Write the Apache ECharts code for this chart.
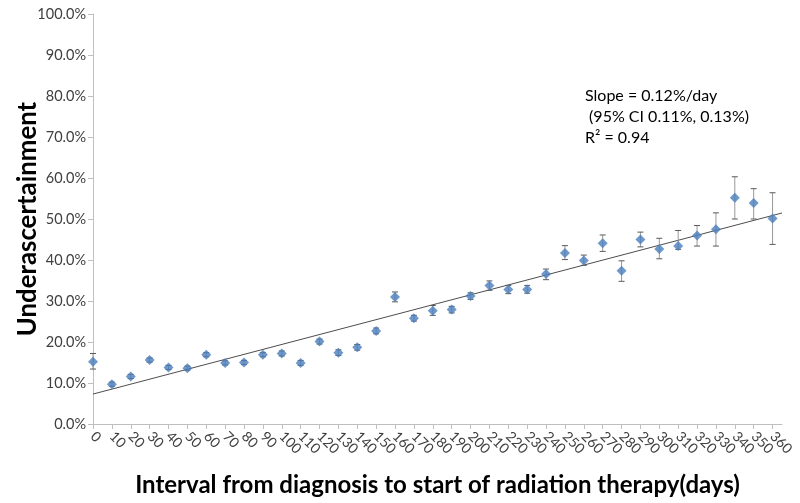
<!DOCTYPE html>
<html>
<head>
<meta charset="utf-8">
<script src="https://cdn.jsdelivr.net/npm/echarts@6/dist/echarts.min.js"></script>
<style>html,body{margin:0;padding:0;background:#fff}#c{width:800px;height:503px}</style>
</head>
<body>
<div id="c"></div>
<script>
var days = [0,10,20,30,40,50,60,70,80,90,100,110,120,130,140,150,160,170,180,190,200,210,220,230,240,250,260,270,280,290,300,310,320,330,340,350,360];
var rate = [15.2,9.7,11.6,15.6,13.8,13.6,16.9,14.9,15.0,16.9,17.2,14.9,20.1,17.4,18.7,22.7,31.0,25.8,27.6,27.9,31.2,33.8,32.8,32.8,36.6,41.7,39.9,44.1,37.4,45.0,42.7,43.4,46.0,47.5,55.2,53.9,50.1];
var lower = [13.4,9.2,11.1,15.1,13.3,13.1,16.4,14.4,14.5,16.4,16.6,14.3,19.5,16.7,18.0,22.0,29.8,25.1,26.5,27.1,30.4,32.6,31.8,31.9,35.2,40.1,38.7,42.1,34.8,43.2,40.3,42.6,43.4,43.4,50.0,50.0,43.8];
var upper = [17.2,10.2,12.1,16.1,14.3,14.1,17.4,15.4,15.5,17.4,17.8,15.5,20.7,18.1,19.4,23.4,32.2,26.5,28.9,28.7,32.0,34.9,33.8,33.8,37.8,43.5,41.2,46.1,39.8,46.8,45.3,47.2,48.4,51.5,60.3,57.4,56.4];
var yTicks = [0,10,20,30,40,50,60,70,80,90,100];
var trendIntercept = 7.3;
var trendSlope = 0.121;
var trendEnd = 365;
var annotation = ['Slope = 0.12%/day', ' (95% CI 0.11%, 0.13%)', 'R\u00B2 = 0.94'];

var pts = days.map(function(d,i){return [d, rate[i]];});
var bars = days.map(function(d,i){return [d, lower[i], upper[i]];});
var trend = [[0, trendIntercept],[trendEnd, trendIntercept + trendSlope*trendEnd]];

var chart = echarts.init(document.getElementById('c'), null, {renderer:'canvas'});
chart.setOption({
  animation:false,
  backgroundColor:'#fff',
  grid:{left:93, right:18, top:14, bottom:79, containLabel:false, outerBoundsMode:'none'},
  xAxis:{
    type:'value', min:0, max:trendEnd,
    name:'Interval from diagnosis to start of radiation therapy(days)',
    nameLocation:'middle', nameGap:49, nameMoveOverlap:false,
    nameTextStyle:{fontFamily:'Lato', fontWeight:'bold', fontSize:24, color:'#000'},
    axisLine:{show:true, lineStyle:{color:'#bfbfbf', width:1}},
    axisTick:{show:true, length:5, lineStyle:{color:'#bfbfbf'}, customValues:days},
    axisLabel:{rotate:-45, fontFamily:'Lato', fontSize:14, color:'#404040', margin:10,
      customValues:days.concat([trendEnd]), hideOverlap:false, showMaxLabel:false, showMinLabel:true,
      formatter:function(v){return days.indexOf(v) >= 0 ? String(v) : '';}},
    splitLine:{show:false}
  },
  yAxis:{
    type:'value', min:0, max:100, interval:10,
    name:'Underascertainment', nameLocation:'middle', nameGap:52, nameRotate:90, nameMoveOverlap:false,
    nameTextStyle:{fontFamily:'Lato', fontWeight:'bold', fontSize:25.8, color:'#000'},
    axisLine:{show:true, lineStyle:{color:'#bfbfbf', width:1}},
    axisTick:{show:true, length:5, lineStyle:{color:'#bfbfbf'}},
    axisLabel:{fontFamily:'Lato', fontSize:14.5, color:'#404040', margin:7, formatter:function(v){return v.toFixed(1)+'%';}},
    splitLine:{show:false}
  },
  series:[
    {
      type:'line', data:trend, symbol:'none', silent:true, z:2,
      lineStyle:{color:'#4d4d4d', width:1}
    },
    {
      type:'custom', data:bars, z:3, silent:true,
      renderItem:function(params, api){
        var x = api.value(0);
        var p1 = api.coord([x, api.value(1)]);
        var p2 = api.coord([x, api.value(2)]);
        var c = 3;
        var st = {stroke:'#595959', lineWidth:1};
        return {type:'group', children:[
          {type:'line', shape:{x1:p1[0], y1:p1[1], x2:p2[0], y2:p2[1]}, style:{stroke:'#999999', lineWidth:1}},
          {type:'line', shape:{x1:p1[0]-c, y1:p1[1], x2:p1[0]+c, y2:p1[1]}, style:st},
          {type:'line', shape:{x1:p2[0]-c, y1:p2[1], x2:p2[0]+c, y2:p2[1]}, style:st}
        ]};
      }
    },
    {
      type:'scatter', data:pts, symbol:'diamond', symbolSize:10, z:4,
      itemStyle:{color:'#4a7ebb'}
    }
  ],
  graphic:[
    {type:'text', left:585, top:85, style:{text:annotation.join('\n'), font:'16px Lato', fill:'#000', lineHeight:21}}
  ]
});
</script>
</body>
</html>
